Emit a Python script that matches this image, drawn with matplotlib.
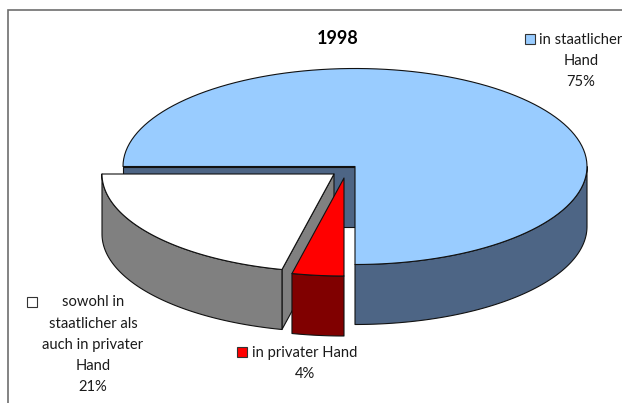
import numpy as np
from matplotlib import pyplot as plt
from matplotlib.patches import Polygon, Rectangle

title = '1998'
# clockwise from the left edge of the blue slice
labels = ['in staatlicher\nHand', 'in privater Hand', 'sowohl in\nstaatlicher als\nauch in privater\nHand']
shares = [75.0, 3.6, 21.4]
tops = ['#99CCFF', '#FF0000', '#FFFFFF']
sides = ['#4D6585', '#800000', '#808080']

plt.rcParams['font.family'] = ['Lato', 'DejaVu Sans']

# geometry in pixels, y pointing down
cx, cy = 355, 166.5
rx, ry = 232, 98
depth = 60
start = 270
explode = [(0, 0), (-11, 11.5), (-21, 7.5)]
line = dict(edgecolor='#111111', linewidth=0.8, joinstyle='round')


def arc(a0, a1, ox=0, oy=0):
    a = np.radians(np.linspace(a0, a1, 120))
    return np.column_stack([cx + ox + rx * np.sin(a), cy + oy - ry * np.cos(a)])


fig = plt.figure(figsize=(6.22, 4.03), dpi=100)
ax = fig.add_axes([0, 0, 1, 1])
ax.set_xlim(0, 622)
ax.set_ylim(403, 0)
ax.axis('off')

# chart frame, the bottom and right sides are cut off in the original
ax.plot([7.5, 7.5, 622], [403, 9.5, 9.5], color='#6E6E6E', lw=1.2, solid_joinstyle='miter')

angles = start + np.cumsum([0] + shares) * 3.6
down = np.array([0, depth])
# white goes first so the red slice sits in front of its wall
for i in [0, 2, 1]:
    col, side = tops[i], sides[i]
    a0, a1 = angles[i], angles[i + 1]
    ox, oy = explode[i]
    apex = np.array([cx + ox, cy + oy])

    if i == 0:
        # inner wall along the left radius, then the visible part of the outer rim
        left = arc(a0, a0)[0]
        ax.add_patch(Polygon([left, apex, apex + down, left + down], facecolor=side, **line))
        rim = arc(90, a1 - 360)
    else:
        rim = arc(a0, a1, ox, oy)
    if i == 2:
        # wall on the radius facing the red slice
        edge = arc(a0, a0, ox, oy)[0]
        ax.add_patch(Polygon([apex, edge, edge + down, apex + down], facecolor=side, **line))

    ax.add_patch(Polygon(np.vstack([rim, (rim + down)[::-1]]), facecolor=side, **line))
    ax.add_patch(Polygon(np.vstack([apex, arc(a0, a1, ox, oy)]), facecolor=col, **line))

ax.text(338, 38, title, ha='center', va='center', fontsize=13, fontweight='bold', color='black')

fs = 10.6
spacing = 21.2
# (key x, key y, text centre x, first line y)
places = [(530, 39, 581, 39.5), (242, 352, 305, 352.5), (32, 302, 93, 302.5)]
for lab, share, col, (kx, ky, tx, ty) in zip(labels, shares, tops, places):
    rows = lab.split('\n') + [f'{share:.0f}%']
    for n, row in enumerate(rows):
        ax.text(tx, ty + n * spacing, row, ha='center', va='center', fontsize=fs, color='#1A1A1A')
    ax.add_patch(Rectangle((kx - 5, ky - 5), 10, 10, facecolor=col, edgecolor='#333333', linewidth=0.8, zorder=5))

fig.savefig('out.png', dpi=100)
